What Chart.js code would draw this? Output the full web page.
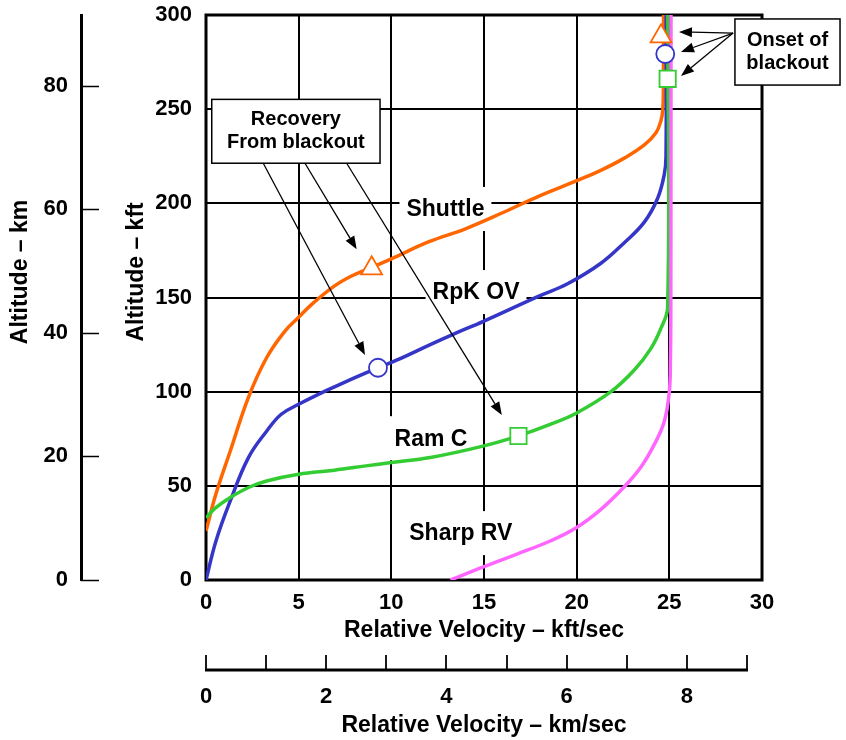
<!DOCTYPE html>
<html>
<head>
<meta charset="utf-8">
<script src="https://cdn.jsdelivr.net/npm/chart.js@4.4.1/dist/chart.umd.min.js"></script>
<style>
html,body{margin:0;padding:0;background:#fff;}
#wrap{width:846px;height:740px;position:relative;}
</style>
</head>
<body>
<div id="wrap"><canvas id="c" width="846" height="740"></canvas></div>
<script>
// ---------- DATA (velocity in kft/sec, altitude in kft) ----------
const vehicles = ['Shuttle', 'RpK OV', 'Ram C', 'Sharp RV'];

const shuttleV = [0, 0.53, 1.31, 2.29, 3.27, 4.25, 5.0, 5.72, 6.92, 7.77, 8.94, 10, 12, 14, 16, 18, 20, 21.3, 22.57, 23.65, 24.28, 24.55, 24.65, 24.68, 24.69];
const shuttleH = [26, 45.5, 68.5, 97, 118, 132, 139.5, 146.5, 156, 161, 166, 170.5, 179.5, 186.5, 195, 204, 212, 217.5, 224, 231, 237.5, 244, 250, 262, 300];

const rpkV = [0, 0.53, 1.31, 2.29, 3.27, 4.06, 5.0, 6.06, 7.26, 8.63, 9.28, 10.35, 12.1, 13.3, 15, 17.9, 19.51, 21.31, 22.57, 23.65, 24.37, 24.73, 24.82, 24.83];
const rpkH = [0, 20.5, 42, 65, 79, 88, 93.3, 98.6, 104, 110, 112.7, 117, 125, 130.3, 137.5, 150.5, 157.3, 168.2, 179.1, 190, 202.7, 215.5, 225, 300];

const ramcV = [0, 0.53, 1.31, 2.29, 3.27, 5.0, 6.92, 8.63, 10, 12.1, 15, 16.86, 18.57, 20, 21.85, 23.11, 24.01, 24.55, 24.91, 24.92];
const ramcH = [33, 38.4, 43.8, 49.1, 52.6, 56.2, 58.3, 60.6, 62.4, 65, 71.2, 76.5, 82.6, 88.7, 100, 111.5, 123, 133.7, 145, 300];

const sharpV = [13.19, 15, 16.71, 18.57, 20, 21.31, 22.57, 23.47, 24.19, 24.73, 25.0, 25.06, 25.08, 25.09];
const sharpH = [0, 7.1, 13.5, 20.7, 27.9, 37.5, 49.5, 60, 72, 84.3, 100, 118, 140, 300];

// blackout markers for Shuttle, RpK OV, Ram C
const recoveryV = [8.94, 9.28, 16.86];
const recoveryH = [165.5, 112.7, 76.5];
const onsetV = [24.55, 24.78, 24.91];
const onsetH = [288.7, 279.3, 266.1];

// tick labels
const kftTicks = [0, 50, 100, 150, 200, 250, 300];
const kftsTicks = [0, 5, 10, 15, 20, 25, 30];
const kmTicks = [0, 20, 40, 60, 80];
const kmsTicks = [0, 1, 2, 3, 4, 5, 6, 7, 8, 9];
const kmsLabels = ['0', '', '2', '', '4', '', '6', '', '8', ''];

// ---------- STYLES / ANNOTATION LAYOUT ----------
const colors = ['#FF6600', '#3535C8', '#33CC33', '#FF66FF'];
const markerStyles = ['triangle', 'circle', 'rect'];
const markerRadius = [12, 9, 11.5];
const FONT = '"Liberation Sans", Arial, Helvetica, sans-serif';

// curve label anchors (data units)
const labelAnchors = [[12.92, 197], [14.57, 152.9], [12.14, 75.3], [13.75, 24.9]];
const recoveryBox = {v0: 0.31, v1: 9.39, hTop: 255.2, hBot: 221.3, lines: ['Recovery', 'From blackout']};
const recoveryArrows = [[3.09, 221.3, 8.58, 119.5], [5.34, 221.3, 8.13, 175.6], [7.59, 221.3, 15.96, 87.6]];
const onsetBox = {v0: 28.54, v1: 34.21, hTop: 297.9, hBot: 262.8, lines: ['Onset of', 'blackout']};
const onsetArrows = [[28.44, 290.4, 25.52, 291], [28.44, 290.4, 25.63, 280.4], [28.44, 290.4, 25.63, 267.6]];

Chart.defaults.font.family = FONT;
Chart.defaults.font.weight = 'bold';
Chart.defaults.color = '#000';

const curveData = [[shuttleV, shuttleH], [rpkV, rpkH], [ramcV, ramcH], [sharpV, sharpH]];
const datasets = curveData.map((c, i) => ({
  label: vehicles[i],
  data: c[0].map((v, j) => ({x: v, y: c[1][j]})),
  borderColor: colors[i],
  borderWidth: 3.5,
  pointRadius: 0,
  fill: false,
  tension: 0.4,
  order: 3 - i,
  xAxisID: 'x', yAxisID: 'y'
}));
for (let i = 0; i < 3; i++) {
  datasets.push({
    label: vehicles[i] + ' blackout',
    data: [{x: recoveryV[i], y: recoveryH[i]}, {x: onsetV[i], y: onsetH[i]}],
    showLine: false,
    pointStyle: markerStyles[i],
    pointRadius: markerRadius[i],
    pointBackgroundColor: '#fff',
    pointBorderColor: colors[i],
    pointBorderWidth: 1.8,
    order: -1,
    xAxisID: 'x', yAxisID: 'y'
  });
}

function drawArrow(ctx, x1, y1, x2, y2) {
  const a = Math.atan2(y2 - y1, x2 - x1), L = 13, W = 5;
  const bx = x2 - L * Math.cos(a), by = y2 - L * Math.sin(a);
  ctx.beginPath(); ctx.moveTo(x1, y1); ctx.lineTo(bx, by); ctx.stroke();
  ctx.beginPath(); ctx.moveTo(x2, y2);
  ctx.lineTo(bx + W * Math.sin(a), by - W * Math.cos(a));
  ctx.lineTo(bx - W * Math.sin(a), by + W * Math.cos(a));
  ctx.closePath(); ctx.fill();
}
function drawBox(ctx, xs, ys, box) {
  const l = xs.getPixelForValue(box.v0), r = xs.getPixelForValue(box.v1);
  const t = ys.getPixelForValue(box.hTop), b = ys.getPixelForValue(box.hBot);
  ctx.fillStyle = '#fff'; ctx.fillRect(l, t, r - l, b - t);
  ctx.lineWidth = 1.5; ctx.strokeStyle = '#000'; ctx.strokeRect(l, t, r - l, b - t);
  ctx.fillStyle = '#000';
  ctx.font = 'bold 20px ' + FONT;
  ctx.textAlign = 'center'; ctx.textBaseline = 'middle';
  const cx = (l + r) / 2, cy = (t + b) / 2;
  ctx.fillText(box.lines[0], cx, cy - 11.5);
  ctx.fillText(box.lines[1], cx, cy + 11.5);
}

const deco = {
  id: 'deco',
  beforeDatasetsDraw(chart) {
    const {ctx, chartArea: a, scales: {x, y}} = chart;
    ctx.save();
    ctx.font = 'bold 23px ' + FONT;
    ctx.textAlign = 'center'; ctx.textBaseline = 'middle';
    vehicles.forEach((t, i) => {
      const px = x.getPixelForValue(labelAnchors[i][0]);
      const py = y.getPixelForValue(labelAnchors[i][1]);
      const w = ctx.measureText(t).width + 14;
      ctx.fillStyle = '#fff'; ctx.fillRect(px - w / 2, py - 22, w, 44);
      ctx.fillStyle = '#000'; ctx.fillText(t, px, py + 1);
    });
    ctx.lineWidth = 3; ctx.strokeStyle = '#000';
    ctx.strokeRect(a.left, a.top, a.right - a.left, a.bottom - a.top);
    ctx.restore();
  },
  afterDatasetsDraw(chart) {
    const {ctx, scales: {x, y}} = chart;
    ctx.save();
    ctx.strokeStyle = '#000'; ctx.fillStyle = '#000'; ctx.lineWidth = 1.3;
    recoveryArrows.forEach(r => drawArrow(ctx, x.getPixelForValue(r[0]), y.getPixelForValue(r[1]), x.getPixelForValue(r[2]), y.getPixelForValue(r[3])));
    onsetArrows.forEach(r => drawArrow(ctx, x.getPixelForValue(r[0]), y.getPixelForValue(r[1]), x.getPixelForValue(r[2]), y.getPixelForValue(r[3])));
    drawBox(ctx, x, y, recoveryBox);
    drawBox(ctx, x, y, onsetBox);
    ctx.restore();
  },
  afterDraw(chart) {
    const {ctx, scales: {y2, x2}} = chart;
    ctx.save();
    ctx.strokeStyle = '#000';
    // km altitude axis: inward tick marks
    ctx.lineWidth = 1.5;
    y2.ticks.forEach(t => {
      const py = Math.round(y2.getPixelForValue(t.value)) + 0.5;
      ctx.beginPath(); ctx.moveTo(y2.right, py); ctx.lineTo(y2.right + 18, py); ctx.stroke();
    });
    // km/sec velocity axis: line from 0 to 9 with upward ticks
    const yb = x2.top;
    ctx.lineWidth = 3;
    ctx.beginPath();
    ctx.moveTo(x2.getPixelForValue(kmsTicks[0]) - 1, yb);
    ctx.lineTo(x2.getPixelForValue(kmsTicks[kmsTicks.length - 1]) + 1, yb);
    ctx.stroke();
    ctx.lineWidth = 1.8;
    x2.ticks.forEach(t => {
      const px = Math.round(x2.getPixelForValue(t.value));
      ctx.beginPath(); ctx.moveTo(px, yb); ctx.lineTo(px, yb - 15); ctx.stroke();
    });
    ctx.restore();
  }
};

new Chart(document.getElementById('c'), {
  type: 'line',
  data: {datasets},
  plugins: [deco],
  options: {
    responsive: false,
    devicePixelRatio: 1,
    animation: false,
    events: [],
    indexAxis: 'y',
    layout: {padding: {left: 0, right: 84, top: 15, bottom: 0}},
    plugins: {legend: {display: false}, tooltip: {enabled: false}},
    scales: {
      x: {
        type: 'linear', position: 'bottom', weight: 0, min: 0, max: 30,
        afterBuildTicks: s => { s.ticks = kftsTicks.map(v => ({value: v})); },
        ticks: {font: {size: 22, weight: 'bold'}, color: '#000', padding: 10, autoSkip: false, maxRotation: 0},
        grid: {color: '#000', lineWidth: 2, drawTicks: false},
        border: {display: false},
        title: {display: true, text: 'Relative Velocity – kft/sec', color: '#000', font: {size: 23, weight: 'bold'}, padding: {top: 0, bottom: 26}},
        afterFit: s => { s.height = 90; }
      },
      x2: {
        type: 'linear', position: 'bottom', weight: 1, min: 0, max: 9.25,
        afterBuildTicks: s => { s.ticks = kmsTicks.map(v => ({value: v})); },
        ticks: {font: {size: 22, weight: 'bold'}, color: '#000', padding: 14, autoSkip: false, maxRotation: 0,
                callback: (v, i) => kmsLabels[i]},
        grid: {drawOnChartArea: false, drawTicks: false},
        border: {display: false},
        title: {display: true, text: 'Relative Velocity – km/sec', color: '#000', font: {size: 23, weight: 'bold'}, padding: {top: 0, bottom: 1}},
        afterFit: s => { s.height = 70; }
      },
      y: {
        type: 'linear', position: 'left', weight: 0, min: 0, max: 300,
        afterBuildTicks: s => { s.ticks = kftTicks.map(v => ({value: v})); },
        ticks: {font: {size: 22, weight: 'bold'}, color: '#000', padding: 14, autoSkip: false},
        grid: {color: '#000', lineWidth: 2, drawTicks: false},
        border: {display: false},
        title: {display: true, text: '        Altitude – kft', color: '#000', font: {size: 23, weight: 'bold'}, padding: {top: 42, bottom: 0}},
        afterFit: s => { s.width = 125; s.paddingTop = 0; s.paddingBottom = 0; }
      },
      y2: {
        type: 'linear', position: 'left', weight: 1, min: 0, max: 91.44,
        afterBuildTicks: s => { s.ticks = kmTicks.map(v => ({value: v})); },
        ticks: {font: {size: 22, weight: 'bold'}, color: '#000', padding: 13, autoSkip: false},
        grid: {drawOnChartArea: false, drawTicks: false},
        border: {display: true, color: '#000', width: 3},
        title: {display: true, text: '        Altitude – km', color: '#000', font: {size: 23, weight: 'bold'}, padding: {top: 7, bottom: 0}},
        afterFit: s => { s.width = 81; s.paddingTop = 0; s.paddingBottom = 0; }
      }
    }
  }
});
</script>
</body>
</html>
